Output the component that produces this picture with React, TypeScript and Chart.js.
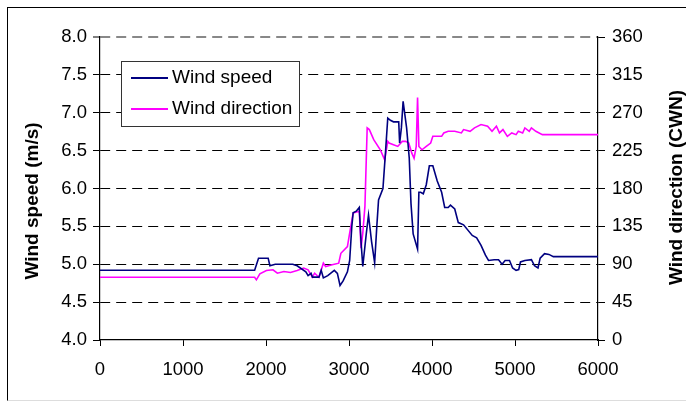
import React, { useEffect, useRef } from "react";
import { Chart, registerables } from "chart.js";

Chart.register(...registerables);

// Time axis (x) values and series
const speedT = [0, 1863, 1910, 2026, 2047, 2111, 2322, 2375, 2480, 2507, 2543, 2559, 2638, 2665, 2691, 2744, 2823, 2860, 2892, 2929, 2981, 3008, 3034, 3050, 3087, 3124, 3145, 3166, 3208, 3235, 3272, 3309, 3335, 3356, 3409, 3441, 3467, 3499, 3536, 3599, 3610, 3631, 3652, 3694, 3726, 3747, 3773, 3826, 3842, 3863, 3895, 3931, 3968, 4010, 4063, 4116, 4153, 4195, 4222, 4274, 4317, 4380, 4485, 4538, 4591, 4644, 4681, 4749, 4802, 4844, 4881, 4934, 4971, 5013, 5045, 5066, 5119, 5198, 5235, 5277, 5303, 5356, 5409, 5462, 6000];
const speedV = [4.92, 4.92, 5.08, 5.08, 4.98, 5.0, 5.0, 4.98, 4.9, 4.85, 4.88, 4.83, 4.83, 4.92, 4.82, 4.85, 4.92, 4.88, 4.72, 4.78, 4.9, 5.05, 5.5, 5.68, 5.7, 5.75, 5.3, 4.97, 5.4, 5.65, 5.3, 5.02, 5.5, 5.85, 6.0, 6.5, 6.93, 6.9, 6.88, 6.88, 6.6, 6.8, 7.15, 6.8, 6.4, 5.8, 5.4, 5.2, 5.95, 5.95, 5.93, 6.05, 6.3, 6.3, 6.1, 5.95, 5.75, 5.75, 5.78, 5.73, 5.55, 5.52, 5.38, 5.35, 5.25, 5.12, 5.05, 5.06, 5.06, 5.0, 5.05, 5.05, 4.95, 4.92, 4.93, 5.03, 5.05, 5.06, 4.98, 4.95, 5.08, 5.14, 5.13, 5.1, 5.1];

const dirT = [0, 1863, 1884, 1926, 2005, 2084, 2137, 2216, 2295, 2375, 2454, 2507, 2559, 2586, 2638, 2691, 2718, 2797, 2876, 2902, 2981, 3008, 3050, 3124, 3145, 3166, 3192, 3219, 3245, 3298, 3377, 3430, 3467, 3483, 3536, 3588, 3641, 3683, 3720, 3757, 3784, 3810, 3826, 3842, 3879, 3931, 3984, 4010, 4116, 4142, 4195, 4274, 4354, 4380, 4459, 4512, 4591, 4670, 4723, 4776, 4813, 4855, 4908, 4961, 5013, 5040, 5092, 5119, 5172, 5198, 5251, 5330, 6000];
const dirV = [74.6, 74.6, 71.5, 78.6, 82.6, 83.4, 79.4, 81.4, 80.2, 82.6, 85.4, 83.4, 74.6, 79.4, 74.6, 91.3, 87.3, 89.3, 91.3, 103, 111, 127, 151, 153, 109, 127, 159, 252, 250, 238, 226, 214, 236, 234, 232, 230, 236, 236, 234, 222, 216, 230, 288, 230, 226, 230, 234, 242, 242, 246, 248, 248, 246, 250, 248, 252, 256, 254, 248, 254, 246, 250, 242, 246, 244, 248, 246, 252, 248, 252, 248, 244, 244];

const seriesLabels = ["Wind speed", "Wind direction"];
const seriesColors = ["#000080", "#ff00ff"];
const leftTitle = "Wind speed (m/s)";
const rightTitle = "Wind direction (CWN)";

const FONT = "'Liberation Sans', Arial, sans-serif";

const overlayPlugin = {
  id: "overlay",
  afterDatasetsDraw(chart: any) {
    const ctx = chart.ctx;
    ctx.save();
    // legend box
    const bx = 121.5, by = 61.5, bw = 178, bh = 65;
    ctx.fillStyle = "#ffffff";
    ctx.fillRect(bx, by, bw, bh);
    ctx.strokeStyle = "#333333";
    ctx.lineWidth = 1;
    ctx.strokeRect(bx, by, bw, bh);
    const rows = [78, 109];
    chart.data.datasets.forEach((ds: any, i: number) => {
      ctx.strokeStyle = ds.borderColor;
      ctx.lineWidth = 2;
      ctx.beginPath();
      ctx.moveTo(131, rows[i]);
      ctx.lineTo(168, rows[i]);
      ctx.stroke();
      ctx.fillStyle = "#000";
      ctx.font = `19px ${FONT}`;
      ctx.textAlign = "left";
      ctx.textBaseline = "alphabetic";
      ctx.fillText(ds.label, 172, rows[i] + 4.5);
    });
    // axis titles
    ctx.font = `bold 19px ${FONT}`;
    ctx.fillStyle = "#000";
    ctx.textAlign = "center";
    ctx.textBaseline = "alphabetic";
    ctx.save();
    ctx.translate(37.5, 201);
    ctx.rotate(-Math.PI / 2);
    ctx.fillText(leftTitle, 0, 0);
    ctx.restore();
    ctx.save();
    ctx.translate(681.5, 187.5);
    ctx.rotate(-Math.PI / 2);
    ctx.fillText(rightTitle, 0, 0);
    ctx.restore();
    ctx.restore();
  },
};

export default function App() {
  const ref = useRef<HTMLCanvasElement>(null);
  useEffect(() => {
    document.body.style.margin = "0";
    const speed = speedT.map((t, i) => ({ x: t, y: speedV[i] }));
    const dir = dirT.map((t, i) => ({ x: t, y: dirV[i] }));
    const tickFont = { family: FONT, size: 18.5 };
    const chart = new Chart(ref.current as HTMLCanvasElement, {
      type: "line",
      data: {
        datasets: [
          {
            label: seriesLabels[0],
            data: speed,
            yAxisID: "y",
            borderColor: seriesColors[0],
            backgroundColor: seriesColors[0],
            borderWidth: 1.6,
            pointRadius: 0,
            tension: 0,
          },
          {
            label: seriesLabels[1],
            data: dir,
            yAxisID: "y1",
            borderColor: seriesColors[1],
            backgroundColor: seriesColors[1],
            borderWidth: 1.6,
            pointRadius: 0,
            tension: 0,
          },
        ],
      },
      options: {
        animation: false,
        responsive: false,
        devicePixelRatio: 1,
        layout: { padding: { left: 0, right: 0, top: 37, bottom: 0 } },
        plugins: { legend: { display: false }, tooltip: { enabled: false } },
        scales: {
          x: {
            type: "linear",
            min: 0,
            max: 6000,
            ticks: {
              stepSize: 1000,
              color: "#000",
              font: tickFont,
              padding: 13,
              maxRotation: 0,
              callback: (v: any) => String(v),
            },
            grid: { drawOnChartArea: false, drawTicks: true, tickLength: 6, color: "#000", tickColor: "#000" },
            border: { display: true, color: "#000", width: 1.2 },
            afterFit: (s: any) => { s.height = 62; },
          },
          y: {
            position: "left",
            min: 4,
            max: 8,
            ticks: {
              stepSize: 0.5,
              color: "#000",
              font: tickFont,
              padding: 6,
              callback: (v: any) => Number(v).toFixed(1),
            },
            grid: {
              drawOnChartArea: true,
              drawTicks: true,
              tickLength: 7,
              color: (c: any) =>
                c.tick && c.tick.value === 8 ? "#888" : c.tick && c.tick.value === 4 ? "rgba(0,0,0,0)" : "#000",
              lineWidth: (c: any) => (c.tick && c.tick.value === 8 ? 2 : 1),
              tickColor: "#000",
              tickWidth: 1,
              tickBorderDash: [],
            },
            border: { display: true, color: "#000", width: 1.2, dash: [10, 6] },
            afterFit: (s: any) => { s.width = 100; },
          },
          y1: {
            position: "right",
            min: 0,
            max: 360,
            ticks: { stepSize: 45, color: "#000", font: tickFont, padding: 7 },
            grid: { drawOnChartArea: false, drawTicks: true, tickLength: 7, color: "#000", tickColor: "#000" },
            border: { display: true, color: "#000", width: 1.2 },
            afterFit: (s: any) => { s.width = 88; },
          },
        },
      },
      plugins: [overlayPlugin],
    });
    return () => chart.destroy();
  }, []);
  return (
    <div style={{ position: "relative", width: 686, height: 402 }}>
      <div
        style={{
          position: "absolute",
          left: 7,
          top: 7,
          width: 700,
          height: 392,
          borderLeft: "1px solid #000",
          borderTop: "1px solid #000",
          borderBottom: "1px solid #ddd",
        }}
      />
      <canvas ref={ref} width={686} height={402} style={{ position: "absolute", left: 0, top: 0 }} />
    </div>
  );
}
